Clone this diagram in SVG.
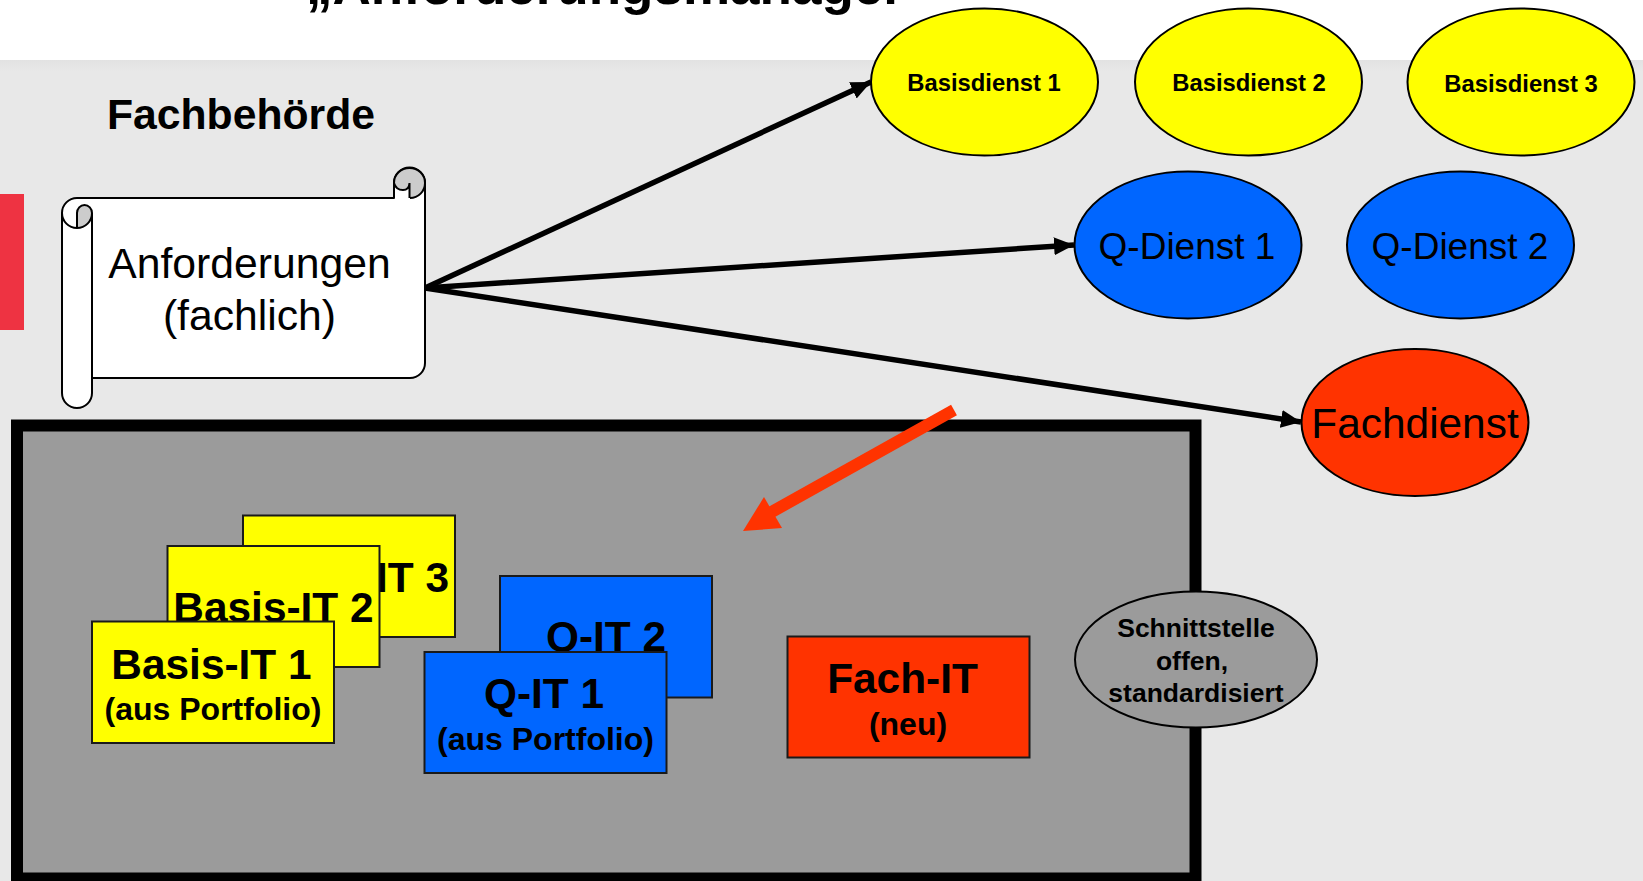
<svg xmlns="http://www.w3.org/2000/svg" width="1643" height="881" viewBox="0 0 1643 881">
<defs>
<linearGradient id="band" x1="0" y1="0" x2="0" y2="1"><stop offset="0" stop-color="#e2e2e2"/><stop offset="1" stop-color="#e8e8e8"/></linearGradient>
<marker id="ah" markerUnits="userSpaceOnUse" markerWidth="22" markerHeight="20" refX="20" refY="9" orient="auto"><path d="M0 0L20 9L0 18Z" fill="#000"/></marker>
</defs>
<style>
text{font-family:"Liberation Sans",Arial,sans-serif;fill:#000;text-anchor:middle}
.b{font-weight:bold}
.box{stroke:#1a1a1a;stroke-width:2}
.el{stroke:#000;stroke-width:2}
.y{fill:#ffff00}.q{fill:#0066ff}.f{fill:#ff3300}
.t42{font-size:42.400px}.t32{font-size:32px}.t24{font-size:23.800px}.t37{font-size:37px}.t26{font-size:26.500px}
.sc{fill:#fff;stroke:#000;stroke-width:2;stroke-linejoin:round}
.conn{stroke:#000;stroke-width:5.500;fill:none;marker-end:url(#ah)}
</style>
<rect width="1643" height="881" fill="#fff"/>
<rect y="60" width="1643" height="821" fill="#e8e8e8"/>
<rect y="60" width="1643" height="12" fill="url(#band)"/>
<rect x="0" y="194" width="24" height="136" fill="#ee3342"/>
<text class="b" x="605" y="4" font-size="53">„Anforderungsmanager</text>
<text class="b" x="241" y="129" font-size="42.700">Fachbehörde</text>

<g id="system">
<rect x="17" y="425.500" width="1178.500" height="453" fill="#9b9b9b" stroke="#000" stroke-width="12"/>
</g>

<g id="anforderungen">
<path class="sc" d="M77 198H394V183A15 15 0 0 1 425 183V363A15 15 0 0 1 410 378H92V393A15 15 0 0 1 62 393V213A15 15 0 0 1 77 198Z"/>
<path d="M410 198A15 15 0 0 0 425 183A15.500 15 0 0 0 394 183Q396 189 403 189Q409 189 409 183V198Z" fill="#ccc"/>
<path d="M394 198V183A15.500 15 0 0 1 425 183A15 15 0 0 1 410 198M394 183Q396 190 403 190Q409 190 409.500 183V198" fill="none" stroke="#000" stroke-width="2"/>
<path d="M77 228A15 15 0 0 0 92 213A7.500 8 0 0 0 77 213Z" fill="#ccc"/>
<path d="M62 213A15 15 0 0 0 92 213V393M77 228V213A7.500 8 0 0 1 92 213" fill="none" stroke="#000" stroke-width="2"/>
<text x="249.500" y="278" font-size="42.700">Anforderungen</text>
<text x="249.500" y="330" font-size="42.700">(fachlich)</text>
</g>

<g id="basisdienst1"><ellipse class="el y" cx="984.500" cy="82" rx="113.500" ry="73.500"/><text class="b t24" x="984" y="91">Basisdienst 1</text></g>
<g id="basisdienst2"><ellipse class="el y" cx="1248.500" cy="82" rx="113.500" ry="73.500"/><text class="b t24" x="1249" y="91">Basisdienst 2</text></g>
<g id="basisdienst3"><ellipse class="el y" cx="1521" cy="82" rx="113.500" ry="73.500"/><text class="b t24" x="1521" y="92">Basisdienst 3</text></g>
<g id="qdienst1"><ellipse class="el q" cx="1188" cy="245" rx="113.500" ry="73.500"/><text class="t37" x="1187" y="259">Q-Dienst 1</text></g>
<g id="qdienst2"><ellipse class="el q" cx="1460.500" cy="245" rx="113.500" ry="73.500"/><text class="t37" x="1460" y="259">Q-Dienst 2</text></g>
<g id="fachdienst"><ellipse class="el f" cx="1415" cy="422.500" rx="113.500" ry="73.500"/><text class="t42" x="1415" y="438">Fachdienst</text></g>

<g id="basis-it-3"><rect class="box y" x="243" y="515.500" width="212" height="121.500"/><text class="b t42" x="449" y="592" style="text-anchor:end">Basis-IT 3</text></g>
<g id="basis-it-2"><rect class="box y" x="167.500" y="546" width="212" height="121"/><text class="b t42" x="273.500" y="622">Basis-IT 2</text></g>
<g id="basis-it-1"><rect class="box y" x="92" y="621.500" width="242" height="121.500"/><text class="b t42" x="211.500" y="679">Basis-IT 1</text><text class="b t32" x="213" y="720">(aus Portfolio)</text></g>
<g id="q-it-2"><rect class="box q" x="500" y="576" width="212" height="121.500"/><text class="b t42" x="606" y="651">Q-IT 2</text></g>
<g id="q-it-1"><rect class="box q" x="424.500" y="652" width="242" height="121"/><text class="b t42" x="544" y="708">Q-IT 1</text><text class="b t32" x="545.500" y="750">(aus Portfolio)</text></g>
<g id="fach-it"><rect class="box f" x="787.500" y="636.500" width="242" height="121"/><text class="b t42" x="902.500" y="693">Fach-IT</text><text class="b t32" x="908" y="735">(neu)</text></g>
<g id="schnittstelle"><ellipse cx="1196" cy="659.500" rx="121" ry="68" fill="#9b9b9b" stroke="#000" stroke-width="2"/><text class="b t26" x="1196" y="637">Schnittstelle</text><text class="b t26" x="1192" y="670">offen,</text><text class="b t26" x="1196" y="702">standardisiert</text></g>

<g id="connectors">
<line class="conn" x1="425" y1="288" x2="871" y2="82"/>
<line class="conn" x1="425" y1="288" x2="1074" y2="245"/>
<line class="conn" x1="425" y1="288" x2="1301" y2="422"/>
<line x1="954" y1="410" x2="768" y2="514" stroke="#ff3300" stroke-width="12"/>
<path d="M743 531L764 497L782 528Z" fill="#ff3300"/>
</g>
</svg>
